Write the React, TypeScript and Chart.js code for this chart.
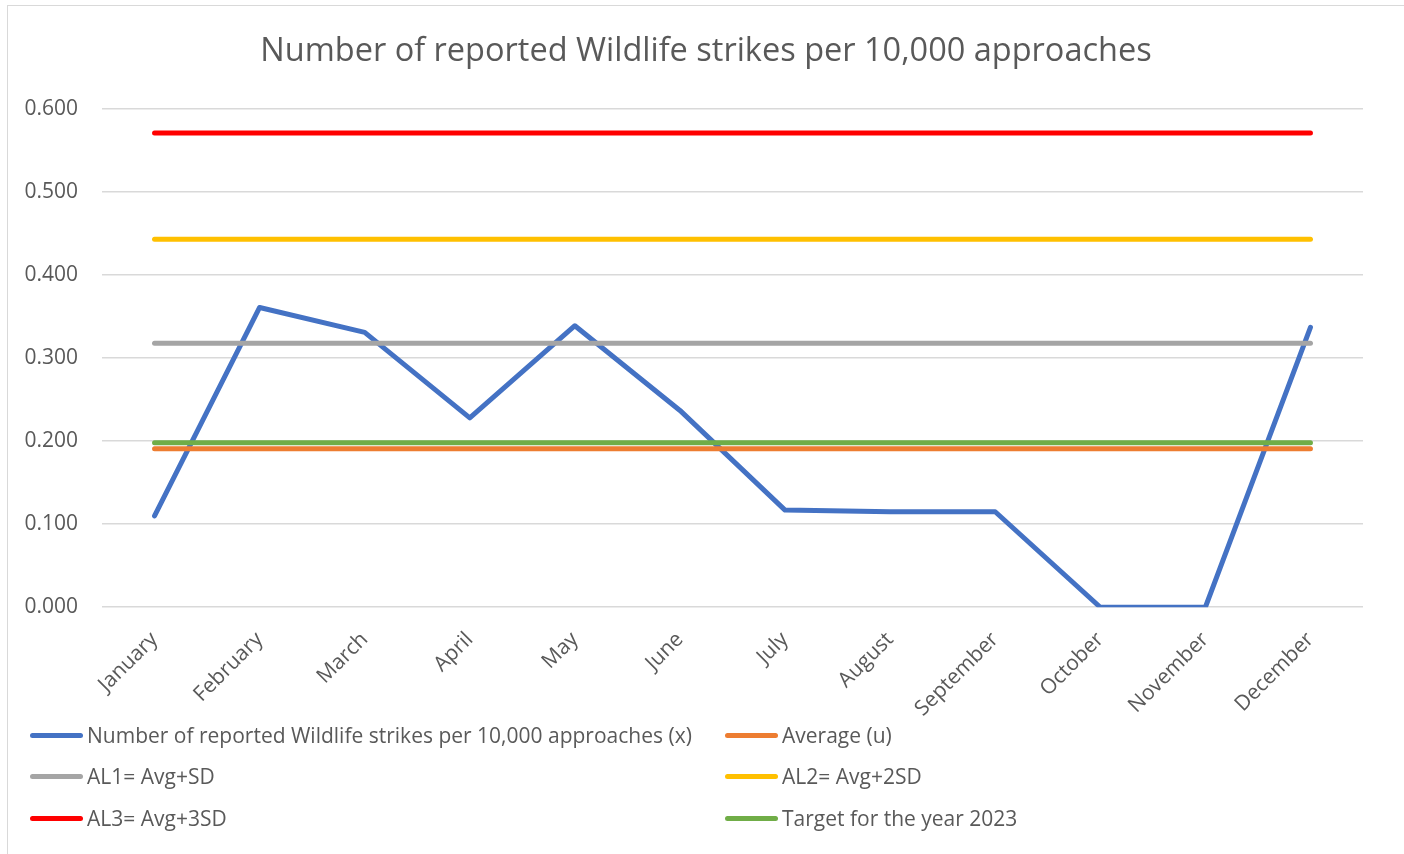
import React, { useEffect, useRef } from "react";
import { Chart, registerables } from "chart.js";

Chart.register(...registerables);

const TITLE = "Number of reported Wildlife strikes per 10,000 approaches";
const MONTHS = ["January", "February", "March", "April", "May", "June", "July", "August", "September", "October", "November", "December"];
const STRIKES = [0.110, 0.361, 0.331, 0.228, 0.339, 0.237, 0.117, 0.115, 0.115, 0.000, 0.000, 0.337];
const AVERAGE = 0.191;
const AL1 = 0.318;
const AL2 = 0.443;
const AL3 = 0.571;
const TARGET = 0.198;
const SERIES_NAMES = [
  "Number of reported Wildlife strikes per 10,000 approaches (x)",
  "Average (u)",
  "AL1= Avg+SD",
  "AL2= Avg+2SD",
  "AL3= Avg+3SD",
  "Target for the year 2023",
];
const COLORS = ["#4472C4", "#ED7D31", "#A5A5A5", "#FFC000", "#FF0000", "#70AD47"];
const Y_TICKS = { min: 0, max: 0.6, step: 0.1 };

const FONT = "'Open Sans', 'Liberation Sans', sans-serif";
const TEXT = "#595959";

export default function App() {
  const ref = useRef<HTMLCanvasElement | null>(null);

  useEffect(() => {
    if (!ref.current) return;
    const flat = (v: number) => MONTHS.map(() => v);
    const values = [STRIKES, flat(AVERAGE), flat(AL1), flat(AL2), flat(AL3), flat(TARGET)];
    const chart = new Chart(ref.current, {
      type: "line",
      data: {
        labels: MONTHS,
        datasets: values.map((d, i) => ({
          label: SERIES_NAMES[i],
          data: d,
          borderColor: COLORS[i],
          backgroundColor: COLORS[i],
          borderWidth: 5,
          pointRadius: 0,
          borderCapStyle: "round" as const,
          borderJoinStyle: "round" as const,
          tension: 0,
          order: values.length - i,
        })),
      },
      options: {
        animation: false,
        responsive: false,
        layout: { padding: { left: 8, right: 0, top: 0, bottom: 120.5 } },
        plugins: {
          legend: { display: false },
          tooltip: { enabled: false },
          title: {
            display: true,
            text: TITLE,
            color: TEXT,
            font: { family: FONT, size: 32.5, weight: "normal" },
            padding: { top: 32, bottom: 38 },
          },
        },
        scales: {
          x: {
            offset: true,
            grid: { display: false },
            border: { display: false },
            afterFit: (scale: any) => {
              scale.paddingLeft = 0;
              scale.paddingRight = 41;
            },
            ticks: {
              color: TEXT,
              font: { family: FONT, size: 21 },
              minRotation: 45,
              maxRotation: 45,
              padding: 12,
            },
          },
          y: {
            min: Y_TICKS.min,
            max: Y_TICKS.max,
            grid: { color: "#D9D9D9", lineWidth: 1.5, drawTicks: false },
            border: { display: false },
            afterFit: (scale: any) => {
              scale.width = 94;
            },
            ticks: {
              stepSize: Y_TICKS.step,
              color: TEXT,
              font: { family: FONT, size: 21 },
              padding: 24,
              callback: (v: any) => Number(v).toFixed(3),
            },
          },
        },
      },
    });
    return () => chart.destroy();
  }, []);

  const legendPos = [
    { left: 30, top: 735 },
    { left: 725, top: 735 },
    { left: 30, top: 776 },
    { left: 725, top: 776 },
    { left: 30, top: 818 },
    { left: 725, top: 818 },
  ];

  return (
    <div style={{ position: "fixed", left: 0, top: 0, width: 1404, height: 854, background: "#fff", overflow: "hidden" }}>
      <div style={{ position: "absolute", left: 7, top: 5, width: 1420, height: 870, border: "1.5px solid #D9D9D9" }} />
      <canvas ref={ref} width={1404} height={854} style={{ position: "absolute", left: 0, top: 0 }} />
      {SERIES_NAMES.map((name, i) => (
        <div
          key={name}
          style={{
            position: "absolute",
            left: legendPos[i].left,
            top: legendPos[i].top - 15,
            height: 30,
            display: "flex",
            alignItems: "center",
            fontFamily: FONT,
            fontSize: 21,
            color: TEXT,
            whiteSpace: "nowrap",
          }}
        >
          <span style={{ display: "inline-block", width: 53, height: 5, borderRadius: 3, background: COLORS[i], marginRight: 4 }} />
          <span>{name}</span>
        </div>
      ))}
    </div>
  );
}
